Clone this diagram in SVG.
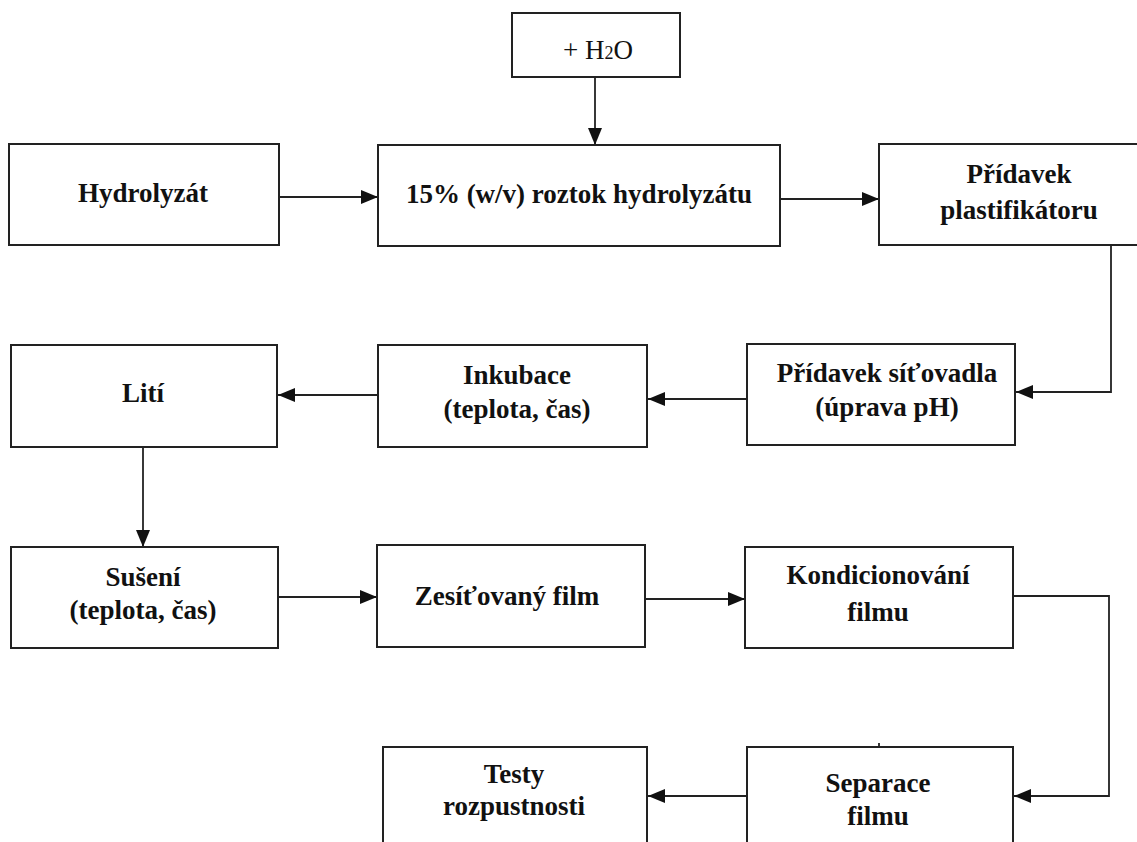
<svg xmlns="http://www.w3.org/2000/svg" width="1137" height="842" viewBox="0 0 1137 842">
<style>
.box{fill:#fff;stroke:#222;stroke-width:2}
.t{font-weight:bold;font-size:27px;fill:#111;text-anchor:middle}
.t.n{font-weight:normal}
.c{fill:none;stroke:#222;stroke-width:1.8}
</style>
<defs>
<marker id="ah" markerUnits="userSpaceOnUse" markerWidth="17" markerHeight="14" refX="17" refY="7" orient="auto">
<path d="M0,0 L17,7 L0,14 z" fill="#111"/>
</marker>
</defs>
<rect width="1137" height="842" fill="#fff"/>
<g id="connectors">
<line class="c" x1="595" y1="77" x2="595" y2="145" marker-end="url(#ah)"/>
<line class="c" x1="279" y1="197" x2="378" y2="197" marker-end="url(#ah)"/>
<line class="c" x1="780" y1="199" x2="879" y2="199" marker-end="url(#ah)"/>
<polyline class="c" points="1111,245 1111,392 1016,392" marker-end="url(#ah)"/>
<line class="c" x1="747" y1="399" x2="648" y2="399" marker-end="url(#ah)"/>
<line class="c" x1="378" y1="395" x2="278" y2="395" marker-end="url(#ah)"/>
<line class="c" x1="143" y1="447" x2="143" y2="547" marker-end="url(#ah)"/>
<line class="c" x1="278" y1="597" x2="377" y2="597" marker-end="url(#ah)"/>
<line class="c" x1="645" y1="599" x2="745" y2="599" marker-end="url(#ah)"/>
<polyline class="c" points="1013,596 1109,596 1109,796 1014,796" marker-end="url(#ah)"/>
<line class="c" x1="747" y1="796" x2="648" y2="796" marker-end="url(#ah)"/>
<line class="c" x1="879" y1="743" x2="879" y2="747"/>
</g>
<g font-family="Liberation Serif, Times New Roman, DejaVu Serif, serif">
<g id="n-h2o"><rect class="box" x="512" y="13" width="168" height="64"/><text class="t n" x="598" y="59">+ H<tspan font-size="18">2</tspan>O</text></g>
<g id="n-hydrolyzat"><rect class="box" x="9" y="144" width="270" height="101"/><text class="t" x="143" y="202">Hydrolyzát</text></g>
<g id="n-roztok"><rect class="box" x="378" y="145" width="402" height="101"/><text class="t" x="579" y="203">15% (w/v) roztok hydrolyzátu</text></g>
<g id="n-plastifikator"><rect class="box" x="879" y="144" width="290" height="101"/><text class="t" x="1019" y="183">Přídavek</text><text class="t" x="1019" y="219">plastifikátoru</text></g>
<g id="n-sitovadlo"><rect class="box" x="747" y="344" width="268" height="101"/><text class="t" x="887" y="382">Přídavek síťovadla</text><text class="t" x="887" y="416">(úprava pH)</text></g>
<g id="n-inkubace"><rect class="box" x="378" y="345" width="269" height="102"/><text class="t" x="517" y="384">Inkubace</text><text class="t" x="517" y="418">(teplota, čas)</text></g>
<g id="n-liti"><rect class="box" x="11" y="345" width="266" height="102"/><text class="t" x="143" y="402">Lití</text></g>
<g id="n-suseni"><rect class="box" x="11" y="547" width="267" height="101"/><text class="t" x="143" y="586">Sušení</text><text class="t" x="143" y="619">(teplota, čas)</text></g>
<g id="n-film"><rect class="box" x="377" y="545" width="268" height="102"/><text class="t" x="507" y="605">Zesíťovaný film</text></g>
<g id="n-kondicionovani"><rect class="box" x="745" y="547" width="268" height="101"/><text class="t" x="878" y="584">Kondicionování</text><text class="t" x="878" y="621">filmu</text></g>
<g id="n-testy"><rect class="box" x="383" y="747" width="264" height="120"/><text class="t" x="514" y="783">Testy</text><text class="t" x="514" y="815">rozpustnosti</text></g>
<g id="n-separace"><rect class="box" x="747" y="747" width="266" height="120"/><text class="t" x="878" y="792">Separace</text><text class="t" x="878" y="825">filmu</text></g>
</g>
</svg>
